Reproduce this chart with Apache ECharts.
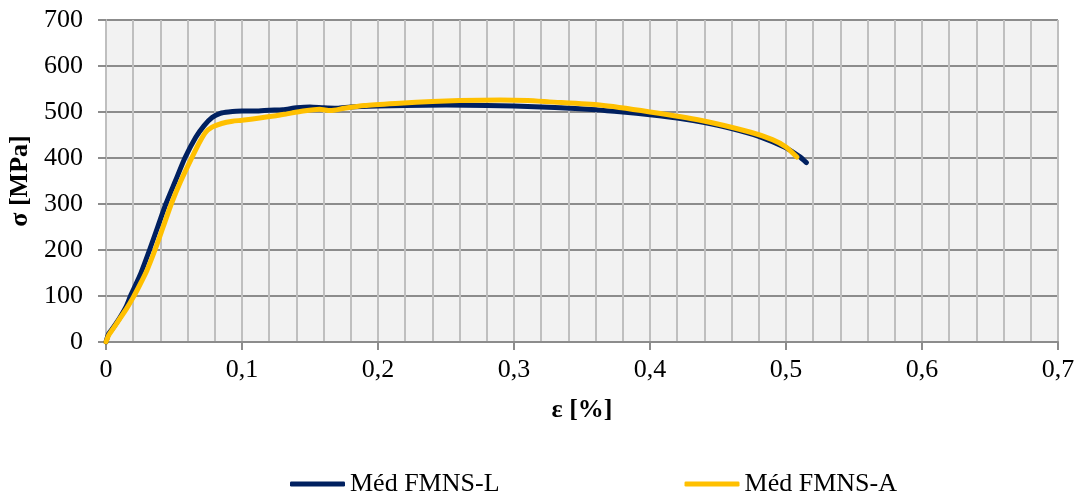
<!DOCTYPE html>
<html>
<head>
<meta charset="utf-8">
<script src="https://cdn.jsdelivr.net/npm/echarts@6/dist/echarts.min.js"></script>
<style>
  html, body { margin: 0; padding: 0; background: #ffffff; }
  #chart { width: 1080px; height: 492px; }
</style>
</head>
<body>
<div id="chart"></div>
<script>
// Stress–strain curves of two copper samples
const seriesNames = ['Méd FMNS-L', 'Méd FMNS-A'];

const strainL = [0, 0.002, 0.005, 0.01, 0.015, 0.018, 0.025, 0.032, 0.038, 0.044, 0.051, 0.058, 0.066, 0.072, 0.078, 0.084, 0.09, 0.1, 0.11, 0.12, 0.13, 0.14, 0.15, 0.16, 0.17, 0.18, 0.2, 0.22, 0.25, 0.28, 0.3, 0.33, 0.36, 0.38, 0.4, 0.42, 0.44, 0.46, 0.48, 0.5, 0.51, 0.515];
const stressL = [0, 18, 30, 52, 78, 100, 145, 200, 250, 300, 350, 400, 445, 470, 488, 497, 500, 502, 502, 504, 505, 509, 511, 509, 508, 511, 513, 514, 515, 514, 513, 510, 505, 500, 494, 487, 477, 464, 447, 422, 403, 390];

const strainA = [0, 0.002, 0.005, 0.01, 0.015, 0.02, 0.025, 0.03, 0.036, 0.042, 0.048, 0.055, 0.063, 0.068, 0.073, 0.078, 0.085, 0.093, 0.1, 0.113, 0.125, 0.133, 0.145, 0.157, 0.165, 0.175, 0.19, 0.216, 0.24, 0.26, 0.29, 0.31, 0.326, 0.363, 0.4, 0.437, 0.474, 0.49, 0.5, 0.508];
const stressA = [0, 15, 28, 50, 72, 97, 125, 155, 200, 250, 300, 350, 400, 430, 455, 467, 475, 480, 482, 487, 492, 496, 502, 506, 503, 508, 514, 519, 523, 525, 526, 525, 522, 515, 500, 482, 456, 440, 424, 402];

const colors = ['#002060', '#FFC000'];
const FONT = '"Liberation Serif", "Times New Roman", serif';

const pairs = (xs, ys) => xs.map((x, i) => [x, ys[i]]);

const chart = echarts.init(document.getElementById('chart'), null, { renderer: 'canvas' });

chart.setOption({
  animation: false,
  textStyle: { fontFamily: FONT, color: '#000' },
  grid: {
    left: 106, right: 22, top: 20, bottom: 150,
    containLabel: false, outerBoundsMode: 'none',
    show: true, backgroundColor: '#f2f2f2', borderWidth: 0
  },
  xAxis: {
    type: 'value', min: 0, max: 0.7, interval: 0.1,
    name: 'ε [%]', nameLocation: 'middle', nameGap: 55,
    nameTextStyle: { fontFamily: FONT, fontSize: 26, fontWeight: 'bold', color: '#000' },
    axisLine: { show: true, lineStyle: { color: '#8c8c8c', width: 2 } },
    axisTick: { show: true, length: 8, lineStyle: { color: '#8c8c8c', width: 2 } },
    axisLabel: {
      fontFamily: FONT, fontSize: 26, color: '#000', margin: 15,
      formatter: v => (v === 0 ? '0' : String(+v.toFixed(1)).replace('.', ','))
    },
    splitLine: { show: true, lineStyle: { color: '#bfbfbf', width: 2 } },
    minorTick: { show: false, splitNumber: 5 },
    minorSplitLine: { show: true, lineStyle: { color: '#bfbfbf', width: 2 } }
  },
  yAxis: {
    type: 'value', min: 0, max: 700, interval: 100,
    name: 'σ [MPa]', nameLocation: 'middle', nameGap: 72,
    nameTextStyle: { fontFamily: FONT, fontSize: 26, fontWeight: 'bold', color: '#000' },
    axisLine: { show: true, lineStyle: { color: '#bfbfbf', width: 2 } },
    axisTick: { show: true, length: 8, lineStyle: { color: '#8c8c8c', width: 2 } },
    axisLabel: { fontFamily: FONT, fontSize: 26, color: '#000', margin: 23 },
    splitLine: { show: true, lineStyle: { color: '#8c8c8c', width: 2 } }
  },
  legend: {
    left: 285, top: 466,
    itemWidth: 55, itemHeight: 5, itemGap: 185,
    icon: 'roundRect',
    textStyle: { fontFamily: FONT, fontSize: 26, color: '#000' },
    data: seriesNames
  },
  series: [
    {
      name: seriesNames[0], type: 'line', data: pairs(strainL, stressL),
      showSymbol: false, smooth: 0.2, color: colors[0],
      lineStyle: { width: 5, color: colors[0], cap: 'round', join: 'round' }
    },
    {
      name: seriesNames[1], type: 'line', data: pairs(strainA, stressA),
      showSymbol: false, smooth: 0.2, color: colors[1],
      lineStyle: { width: 5, color: colors[1], cap: 'round', join: 'round' }
    }
  ]
});
</script>
</body>
</html>
